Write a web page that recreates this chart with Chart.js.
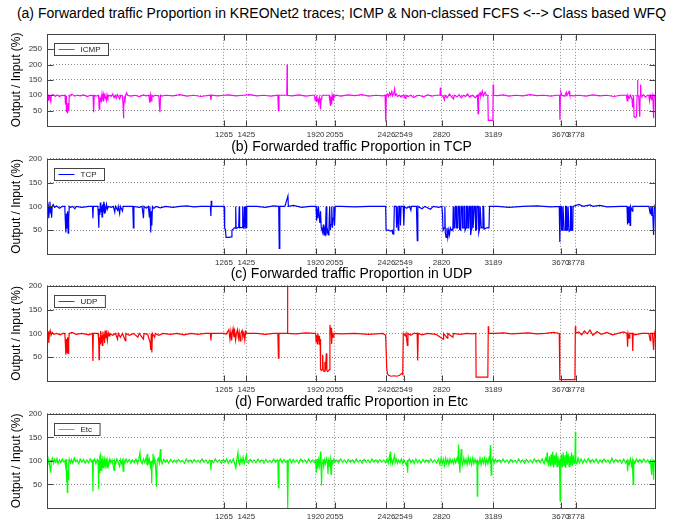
<!DOCTYPE html>
<html>
<head>
<meta charset="utf-8">
<script src="https://cdn.jsdelivr.net/npm/chart.js@4.4.1/dist/chart.umd.min.js"></script>
<style>
  html, body { margin: 0; padding: 0; background: #fff; overflow: hidden; }
  body { position: relative; width: 683px; height: 519px; font-family: "Liberation Sans", Arial, sans-serif; }
  canvas { position: absolute; left: 0; }
  .ttl { position: absolute; left: 0; width: 703px; text-align: center; font-size: 14px; color: #000; white-space: nowrap; line-height: 16px; }
</style>
</head>
<body>
<div class="ttl" id="t-a" style="top:5px; left:0; width:683px;">(a) Forwarded traffic Proportion in KREONet2 traces; ICMP &amp; Non-classed FCFS &lt;--&gt; Class based WFQ</div>
<canvas id="c-icmp" width="683" height="116" style="top:24px"></canvas>
<div class="ttl" style="top:138px">(b) Forwarded traffic Proportion in TCP</div>
<canvas id="c-tcp" width="683" height="119" style="top:149px"></canvas>
<div class="ttl" style="top:265px">(c) Forwarded traffic Proportion in UDP</div>
<canvas id="c-udp" width="683" height="119" style="top:276px"></canvas>
<div class="ttl" style="top:393px">(d) Forwarded traffic Proportion in Etc</div>
<canvas id="c-etc" width="683" height="118" style="top:404px"></canvas>

<script>
// sample positions marked on every x axis
const markTicks = [1265, 1425, 1920, 2055, 2426, 2549, 2820, 3189, 3670, 3778];
const ticksIcmp = [50, 100, 150, 200, 250];
const ticksOther = [50, 100, 150, 200];

// [sample, output/input %]
const icmpTrace = [
  [1,100],[6,96],[10,84],[14,100],[20,98],[28,80],[32,100],[45,102],[60,97],[75,101],[90,96],[105,100],[118,99],
  [130,100],[133,70],[137,98],[140,45],[144,60],[148,42],[152,75],[156,50],[160,96],[164,100],
  [180,103],[200,97],[215,100],[240,98],[262,101],[290,96],[310,100],
  [330,99],[334,45],[338,100],[350,97],
  [368,100],[371,88],[374,55],[378,92],[382,80],[386,96],[390,85],[394,104],[398,90],[402,82],[406,100],[410,92],[414,106],[418,88],[422,96],[426,85],[430,102],[436,92],[442,100],
  [460,97],[470,104],[480,92],[488,100],[496,90],[504,102],[512,96],[520,88],[528,100],
  [540,98],[544,72],[547,25],[550,60],[554,90],[558,84],[562,100],[570,108],[576,100],
  [600,97],[630,100],[660,96],[690,101],[710,98],
  [728,100],[732,88],[736,75],[740,100],[746,82],[750,100],[760,96],[770,100],
  [800,98],[804,68],[808,45],[812,100],[820,97],
  [850,100],[900,98],[950,102],[1000,97],[1050,100],[1100,96],
  [1168,100],[1172,85],[1176,100],
  [1220,98],[1265,100],[1300,101],[1350,98],[1400,100],[1450,102],[1500,98],[1550,100],[1600,97],
  [1650,100],[1654,50],[1658,100],
  [1714,100],[1716,200],[1718,100],
  [1750,98],[1800,101],[1850,97],[1900,100],
  [1912,100],[1916,84],[1920,95],[1924,80],[1928,100],[1932,82],[1936,88],[1940,75],[1946,92],[1950,78],[1955,55],[1959,88],[1964,96],[1970,100],
  [2016,100],[2022,80],[2026,65],[2030,95],[2034,70],[2038,100],[2044,85],[2048,100],[2055,96],[2065,100],
  [2100,97],[2150,101],[2200,99],[2250,102],[2300,97],[2350,100],[2400,98],
  [2416,100],[2419,50],[2422,15],[2425,100],
  [2432,104],[2440,96],[2448,108],[2456,100],[2464,112],[2470,98],[2478,106],[2484,120],[2488,100],[2496,104],[2505,96],
  [2520,100],[2530,94],[2540,98],[2550,100],[2560,90],[2565,100],[2580,96],[2600,100],[2620,93],[2640,98],[2660,100],[2690,95],[2720,101],[2750,97],[2780,100],
  [2808,100],[2811,125],[2814,100],
  [2830,97],[2840,85],[2844,100],[2860,92],[2875,104],[2890,96],[2905,88],[2910,100],[2930,95],[2945,102],[2960,92],[2975,100],[2990,96],[3005,104],[3020,94],[3040,100],[3060,92],
  [3076,100],[3080,40],[3084,100],[3095,108],[3100,96],[3110,114],[3118,98],[3130,110],[3140,100],
  [3150,100],[3153,18],[3186,18],[3188,135],[3191,100],
  [3220,99],[3260,101],[3300,97],[3350,100],[3400,98],[3450,102],[3500,99],[3550,100],[3600,97],[3640,100],
  [3662,100],[3665,20],[3668,100],[3672,110],[3678,100],[3700,97],[3710,110],[3716,100],[3730,112],[3736,100],[3760,98],
  [3800,100],[3850,97],[3900,101],[3950,98],[4000,100],[4050,96],[4100,100],
  [4140,100],[4145,82],[4150,100],[4160,90],[4170,100],[4180,86],[4184,60],[4190,100],
  [4195,30],[4205,28],[4212,32],[4216,100],[4219,150],[4222,100],[4228,96],[4235,30],[4238,100],[4241,135],[4244,100],[4250,96],[4260,102],[4275,94],[4290,100],
  [4300,100],[4305,82],[4310,100],[4318,88],[4324,100],[4330,80],[4334,25],[4338,100],[4344,95]
];

const tcpTrace = [
  [1,100],[5,92],[10,100],[14,75],[18,100],[22,110],[26,85],[30,100],[34,76],[38,100],[45,104],[55,98],[70,101],[90,96],[110,100],
  [128,100],[132,70],[136,45],[140,85],[144,55],[148,90],[152,44],[156,75],[160,100],[170,98],[185,100],[200,95],[210,100],
  [250,98],[300,100],[326,100],[329,75],[332,100],
  [364,100],[368,80],[371,55],[374,95],[378,82],[382,108],[386,88],[390,100],[394,78],[398,104],[402,90],[406,110],[410,86],[414,100],[420,92],[426,104],[432,94],[440,100],
  [460,98],[475,100],[485,88],[490,100],[505,92],[510,100],[520,85],[525,100],[540,90],[545,100],
  [614,100],[618,55],[622,100],
  [660,98],[680,100],[690,75],[694,100],[710,96],[725,100],[732,78],[736,100],[742,45],[746,90],[750,60],[754,100],[765,96],[780,100],[810,97],[850,100],[900,98],[950,100],[1000,101],[1050,99],[1100,100],
  [1168,100],[1172,80],[1174,112],[1178,100],[1230,100],[1266,100],
  [1270,55],[1276,50],[1280,35],[1300,35],[1318,36],[1322,50],[1330,52],[1340,55],[1346,55],[1349,100],[1352,54],[1370,56],[1374,100],[1377,55],[1396,56],[1399,100],[1402,55],[1408,54],[1411,100],[1414,56],[1418,100],[1421,55],[1426,56],[1428,100],
  [1500,100],[1560,98],[1620,101],[1656,100],[1660,12],[1664,100],[1700,100],[1722,122],[1725,100],[1760,102],[1820,98],[1880,100],[1918,100],
  [1923,100],[1927,70],[1930,95],[1935,75],[1940,100],[1945,80],[1950,65],[1955,90],[1960,55],[1965,50],[1970,45],[1975,62],[1980,40],[1985,52],[1990,45],[1995,100],[2000,45],[2005,50],[2010,40],[2015,55],[2020,100],[2025,50],[2030,62],[2035,100],[2040,55],[2045,75],[2050,100],[2055,60],[2060,100],
  [2100,100],[2200,99],[2300,100],[2400,100],[2420,100],
  [2423,50],[2440,50],[2455,48],[2466,50],[2470,43],[2478,42],[2482,100],
  [2495,100],[2498,55],[2502,100],[2510,50],[2514,100],[2520,100],[2526,60],[2530,100],[2545,100],[2550,60],[2554,100],[2570,96],[2590,100],[2600,92],[2604,100],[2640,100],[2646,28],[2650,100],[2680,95],[2700,100],[2740,94],[2760,100],[2800,98],[2822,100],
  [2826,85],[2830,50],[2838,55],[2843,100],[2846,45],[2852,35],[2858,55],[2864,35],[2870,50],[2876,40],[2882,55],[2890,50],[2896,52],[2900,50],[2903,100],[2907,55],[2915,55],[2918,100],[2924,100],[2927,55],[2935,55],[2938,100],[2945,100],[2948,52],[2956,50],[2959,100],[2966,100],[2969,55],[2976,55],[2979,100],[2985,100],[2988,50],[2994,55],[2997,100],[3004,100],[3007,55],[3014,55],[3017,100],[3024,100],[3027,40],[3033,52],[3036,100],[3042,100],[3045,55],[3050,55],[3053,100],[3060,100],[3063,50],[3070,52],[3073,100],[3082,100],[3085,45],[3092,55],[3095,100],[3100,100],[3103,55],[3112,55],[3115,100],[3120,100],[3124,52],[3140,55],[3158,55],[3162,100],
  [3220,100],[3300,98],[3400,100],[3500,101],[3600,99],[3660,100],
  [3664,25],[3668,100],[3674,100],[3677,50],[3684,50],[3687,100],[3692,100],[3695,50],[3702,50],[3705,100],[3710,100],[3713,50],[3720,50],[3723,100],[3728,100],[3731,48],[3738,50],[3741,100],[3745,100],[3748,50],[3756,50],[3759,100],
  [3800,104],[3830,100],[3880,103],[3900,100],[3950,102],[4000,99],[4100,100],[4144,100],[4148,62],[4152,100],[4156,65],[4160,100],[4166,60],[4170,100],[4182,90],[4186,100],[4300,100],[4310,85],[4314,100],[4322,80],[4326,100],[4334,40],[4340,100],[4344,97]
];

const udpTrace = [
  [1,100],[6,92],[10,104],[14,80],[18,100],[24,106],[30,96],[38,102],[50,98],[70,100],[95,97],[115,100],
  [128,100],[132,80],[136,55],[140,88],[144,60],[148,92],[152,58],[156,85],[160,100],[180,102],[210,98],[250,100],[300,97],
  [326,100],[329,42],[332,100],
  [366,100],[370,85],[373,45],[376,92],[380,78],[384,105],[388,82],[392,96],[396,75],[400,104],[404,88],[408,98],[412,80],[416,106],[420,90],[426,100],[432,85],[438,102],[444,95],[450,100],
  [470,96],[490,100],[505,88],[510,100],[525,92],[540,100],[560,85],[564,100],[590,96],[620,100],[650,92],[660,100],[690,88],[694,100],
  [720,98],[738,80],[742,65],[746,100],[750,60],[754,100],[770,92],[775,100],[800,96],[830,100],[880,98],[930,100],[980,97],[1030,100],[1080,98],[1130,100],
  [1168,100],[1172,85],[1176,100],[1230,100],[1265,100],[1280,98],[1300,108],[1308,88],[1314,104],[1320,85],[1324,100],[1330,110],[1336,92],[1342,104],[1348,86],[1354,100],[1362,108],[1368,90],[1374,102],[1380,84],[1386,100],[1394,106],[1400,92],[1408,100],[1414,86],[1420,104],[1428,100],
  [1500,100],[1560,98],[1620,100],[1650,100],[1654,48],[1658,100],[1716,100],[1719,200],[1721,100],[1780,99],[1850,101],[1910,100],
  [1920,100],[1924,82],[1928,96],[1932,78],[1936,100],[1940,84],[1944,95],[1948,76],[1952,88],[1955,25],[1960,22],[1966,24],[1970,55],[1974,22],[1980,20],[1986,40],[1990,22],[1996,58],[2000,22],[2006,20],[2012,22],[2018,24],[2022,118],[2026,100],[2030,112],[2034,78],[2038,100],[2044,92],[2050,100],
  [2100,99],[2200,100],[2300,98],[2400,100],[2420,96],
  [2428,25],[2434,15],[2440,12],[2460,10],[2480,11],[2500,10],[2520,12],[2536,16],[2542,14],[2546,100],
  [2560,95],[2566,100],[2575,75],[2579,100],[2600,96],[2620,100],[2645,100],[2649,43],[2653,100],[2680,97],[2720,100],[2780,98],[2830,88],[2834,100],[2860,90],[2864,100],[2900,92],[2904,100],[2950,98],[3000,100],[3040,99],
  [3064,100],[3066,8],[3150,8],[3153,115],[3156,100],
  [3200,100],[3260,101],[3320,99],[3380,100],[3440,101],[3500,99],[3560,100],[3620,102],[3660,100],
  [3664,3],[3772,3],[3775,115],[3778,100],
  [3800,103],[3820,97],[3840,105],[3860,99],[3880,107],[3900,96],[3930,104],[3960,98],[4000,102],[4040,97],[4080,100],[4120,103],
  [4144,100],[4148,72],[4152,100],[4160,90],[4164,100],[4182,100],[4185,63],[4188,100],[4200,97],[4250,100],[4300,100],[4310,85],[4314,100],[4326,100],[4334,65],[4340,100],[4344,95]
];

const etcTrace = [
  [1,100],[8,96],[14,104],[20,90],[27,75],[32,100],[40,106],[48,95],[56,103],[64,97],[72,105],[80,94],[90,102],[100,96],[110,104],[120,98],[128,100],[134,88],[138,104],[140,55],[143,95],[146,33],[149,80],[152,60],[156,92],[160,104],[168,96],[176,103],[186,95],[196,106],[206,98],[216,102],[228,94],[238,104],[250,97],[262,103],[274,95],[286,102],[298,96],[310,104],[320,98],[326,100],[329,35],[332,100],[340,104],[350,94],[360,103],[366,100],[369,40],[372,95],[375,75],[378,108],[381,112],[384,85],[388,80],[392,104],[396,86],[400,110],[404,92],[408,84],[412,102],[418,90],[424,106],[430,85],[436,100],[442,92],[450,104],[458,96],[466,102],[474,90],[480,80],[484,100],[492,94],[500,104],[510,96],[520,88],[526,102],[534,94],[540,100],[545,78],[550,102],[558,96],[566,104],[576,97],[588,103],[600,95],[612,102],[624,96],[636,104],[648,94],[656,102],[665,118],[670,100],[680,94],[690,104],[700,96],[710,108],[716,92],[720,115],[725,96],[732,104],[740,88],[746,100],[749,52],[752,96],[758,115],[764,94],[770,104],[776,92],[783,45],[788,100],[796,106],[804,96],[811,125],[815,100],[824,94],[834,103],[846,97],[858,102],[870,95],[884,103],[898,97],[912,101],[926,96],[940,103],[954,98],[968,101],[982,95],[996,104],[1010,97],[1024,102],[1038,96],[1052,103],[1066,98],[1080,101],[1094,96],[1108,104],[1122,97],[1136,102],[1150,95],[1162,102],[1168,100],[1172,80],[1176,100],[1190,96],[1204,104],[1218,97],[1232,102],[1246,95],[1260,103],[1272,97],[1284,104],[1296,95],[1308,102],[1320,96],[1332,104],[1342,94],[1350,85],[1356,100],[1365,118],[1370,98],[1378,92],[1386,106],[1394,96],[1402,108],[1410,94],[1418,104],[1425,112],[1430,98],[1440,95],[1452,103],[1466,97],[1480,102],[1494,96],[1508,104],[1522,97],[1536,102],[1550,95],[1564,103],[1578,97],[1592,101],[1606,96],[1620,104],[1634,97],[1646,102],[1650,100],[1654,43],[1658,100],[1668,104],[1680,96],[1692,103],[1704,97],[1716,100],[1719,100],[1722,0],[1725,100],[1736,104],[1748,96],[1760,103],[1772,97],[1786,102],[1800,95],[1814,104],[1828,97],[1842,102],[1856,96],[1870,104],[1884,97],[1898,102],[1910,96],[1920,100],[1925,75],[1930,104],[1936,84],[1942,102],[1948,90],[1955,120],[1958,100],[1962,48],[1966,96],[1972,104],[1978,88],[1984,102],[1990,94],[1998,105],[2004,96],[2008,72],[2012,100],[2018,92],[2024,104],[2030,72],[2034,100],[2042,94],[2050,104],[2058,97],[2070,102],[2084,96],[2098,104],[2112,97],[2126,102],[2140,96],[2154,103],[2168,97],[2182,102],[2196,96],[2210,104],[2224,97],[2238,102],[2252,95],[2266,103],[2280,97],[2294,102],[2308,96],[2322,104],[2336,97],[2350,102],[2364,96],[2378,103],[2392,97],[2406,102],[2420,96],[2430,104],[2438,95],[2446,108],[2450,100],[2453,120],[2456,97],[2462,104],[2470,94],[2478,106],[2484,112],[2488,96],[2496,104],[2504,95],[2512,102],[2522,96],[2532,104],[2542,94],[2550,102],[2560,96],[2570,90],[2574,100],[2577,75],[2580,100],[2590,104],[2600,96],[2612,102],[2624,94],[2636,104],[2648,96],[2660,102],[2672,95],[2686,103],[2700,97],[2714,102],[2728,96],[2742,104],[2756,97],[2770,102],[2784,96],[2798,104],[2808,92],[2816,106],[2824,94],[2832,104],[2840,90],[2848,106],[2856,95],[2864,103],[2872,92],[2880,104],[2888,96],[2896,102],[2904,94],[2912,104],[2920,96],[2930,106],[2936,100],[2941,135],[2945,100],[2950,75],[2954,100],[2960,125],[2964,100],[2970,92],[2978,106],[2986,94],[2994,104],[3002,92],[3010,108],[3018,95],[3026,104],[3034,92],[3042,106],[3050,94],[3058,104],[3066,96],[3072,100],[3075,25],[3078,100],[3086,94],[3094,106],[3102,92],[3110,104],[3118,95],[3126,106],[3134,92],[3142,104],[3150,94],[3158,106],[3164,100],[3168,133],[3171,100],[3174,70],[3178,100],[3186,106],[3194,95],[3204,103],[3216,97],[3230,102],[3244,96],[3258,104],[3272,97],[3286,102],[3300,95],[3314,103],[3328,97],[3342,101],[3356,96],[3370,104],[3384,97],[3398,102],[3412,95],[3426,103],[3440,97],[3454,102],[3468,96],[3482,104],[3496,97],[3510,102],[3524,96],[3538,104],[3552,94],[3562,106],[3570,100],[3573,118],[3576,100],[3584,92],[3590,110],[3596,88],[3602,114],[3608,90],[3614,120],[3620,86],[3626,112],[3632,92],[3638,118],[3644,88],[3650,110],[3656,94],[3662,100],[3666,15],[3670,100],[3676,114],[3682,86],[3688,118],[3694,90],[3700,112],[3706,85],[3712,120],[3718,92],[3724,115],[3730,88],[3736,110],[3742,92],[3748,118],[3754,90],[3760,112],[3766,94],[3772,100],[3775,162],[3778,100],[3786,94],[3794,106],[3804,96],[3816,104],[3828,95],[3840,103],[3854,97],[3868,105],[3882,96],[3896,103],[3910,97],[3924,104],[3938,95],[3952,102],[3966,96],[3980,104],[3994,97],[4008,102],[4022,95],[4036,106],[4050,96],[4064,103],[4078,97],[4092,102],[4106,95],[4120,104],[4134,96],[4144,100],[4148,78],[4152,100],[4160,92],[4168,104],[4176,90],[4182,100],[4188,50],[4192,100],[4200,95],[4212,104],[4224,97],[4236,103],[4250,96],[4264,104],[4278,97],[4292,102],[4304,95],[4312,100],[4320,70],[4324,100],[4330,92],[4334,60],[4338,100],[4344,96]
];

// matlab-style box: frame, inward tick marks and an inset legend
const axesBox = {
  id: 'axesBox',
  afterDatasetsDraw(chart) {
    const { ctx, chartArea: a, scales: { x, y } } = chart;
    const L = Math.round(a.left) + 0.5, R = Math.round(a.right) + 0.5;
    const T = Math.round(a.top) + 0.5, B = Math.round(a.bottom) + 0.5;
    ctx.save();
    ctx.strokeStyle = '#444';
    ctx.lineWidth = 1;
    ctx.beginPath();
    x.ticks.forEach(t => {
      const px = Math.round(x.getPixelForValue(t.value)) + 0.5;
      ctx.moveTo(px, B); ctx.lineTo(px, B - 6);
      ctx.moveTo(px, T); ctx.lineTo(px, T + 6);
    });
    y.ticks.forEach(t => {
      const py = Math.round(y.getPixelForValue(t.value)) + 0.5;
      ctx.moveTo(L, py); ctx.lineTo(L + 6, py);
      ctx.moveTo(R, py); ctx.lineTo(R - 6, py);
    });
    ctx.stroke();
    ctx.strokeRect(L, T, R - L, B - T);

    // legend
    const ds = chart.data.datasets[0];
    ctx.font = '8px "Liberation Sans", Arial, sans-serif';
    const w = 28 + ctx.measureText(ds.label).width + 6;
    const lx = L + 7, ly = T + 9, lh = 12;
    ctx.fillStyle = '#fff';
    ctx.fillRect(lx, ly, w, lh);
    ctx.strokeStyle = '#444';
    ctx.strokeRect(lx, ly, w, lh);
    ctx.strokeStyle = ds.borderColor;
    ctx.beginPath();
    ctx.moveTo(lx + 4, ly + lh / 2); ctx.lineTo(lx + 20, ly + lh / 2);
    ctx.stroke();
    ctx.fillStyle = '#222';
    ctx.textBaseline = 'middle';
    ctx.fillText(ds.label, lx + 26, ly + lh / 2 + 0.5);
    ctx.restore();
  }
};

function makePanel(id, label, trace, color, yMax, yTicks) {
  return new Chart(document.getElementById(id), {
    type: 'line',
    data: {
      datasets: [{
        label: label,
        data: trace.map(p => ({ x: p[0], y: p[1] })),
        borderColor: color,
        borderWidth: 1.2,
        pointRadius: 0,
        tension: 0,
        fill: false
      }]
    },
    options: {
      responsive: false,
      animation: false,
      events: [],
      layout: { padding: { top: 8, right: 28, left: 0, bottom: 0 } },
      plugins: { legend: { display: false }, tooltip: { enabled: false } },
      scales: {
        x: {
          type: 'linear',
          min: 1,
          max: 4344,
          afterBuildTicks: s => { s.ticks = markTicks.map(v => ({ value: v })); },
          afterFit: s => { s.height = 14; },
          ticks: {
            autoSkip: false,
            maxRotation: 0,
            padding: 4,
            color: '#333',
            font: { size: 8, family: '"Liberation Sans", Arial, sans-serif' },
            callback: v => String(v)
          },
          grid: { color: '#8c8c8c', drawTicks: false },
          border: { display: false, dash: [1, 2] }
        },
        y: {
          min: 0,
          max: yMax,
          afterBuildTicks: s => { s.ticks = yTicks.map(v => ({ value: v })); },
          afterFit: s => { s.width = 47; },
          ticks: {
            padding: 5,
            color: '#333',
            font: { size: 8, family: '"Liberation Sans", Arial, sans-serif' }
          },
          grid: { color: '#8c8c8c', drawTicks: false },
          border: { display: false, dash: [1, 2] },
          title: {
            display: true,
            text: 'Output / Input (%)',
            color: '#000',
            padding: { top: 9, bottom: 0 },
            font: { size: 12, family: '"Liberation Sans", Arial, sans-serif' }
          }
        }
      }
    },
    plugins: [axesBox]
  });
}

makePanel('c-icmp', 'ICMP', icmpTrace, '#ff00ff', 300, ticksIcmp);
makePanel('c-tcp', 'TCP', tcpTrace, '#0000ff', 200, ticksOther);
makePanel('c-udp', 'UDP', udpTrace, '#ff0000', 200, ticksOther);
makePanel('c-etc', 'Etc', etcTrace, '#00ff00', 200, ticksOther);
</script>
</body>
</html>
